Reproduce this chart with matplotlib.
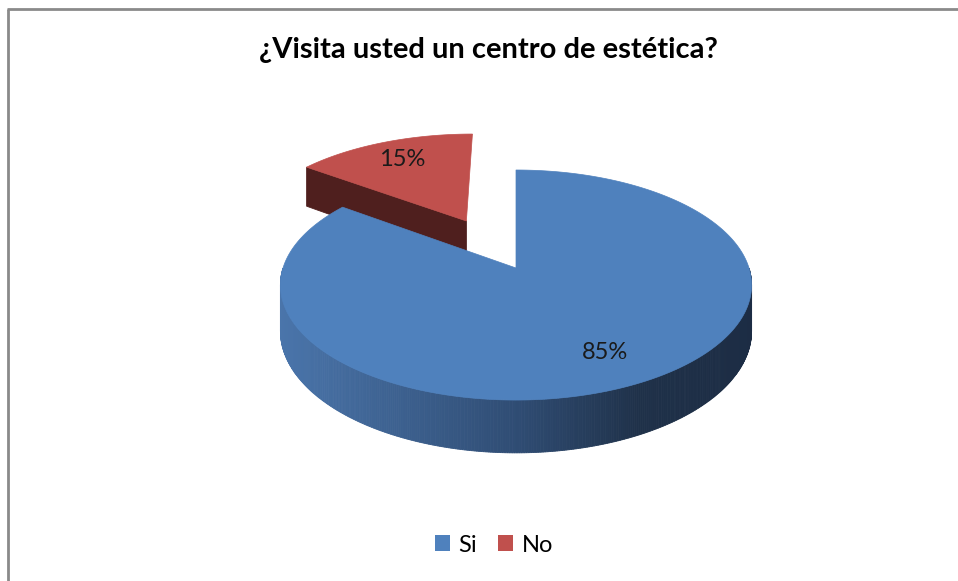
import numpy as np
import matplotlib
matplotlib.use('Agg')
import matplotlib.pyplot as plt
from matplotlib.patches import Polygon, Patch
from matplotlib.colors import to_rgb

# ---- data ----
title = "¿Visita usted un centro de estética?"
categories = ["Si", "No"]
values = [85, 15]
labels = ["85%", "15%"]
top_colors = ["#4f81bd", "#c0504d"]
face_colors = ["#2a4468", "#4f1f1e"]
explode = [0.0, 0.5]

W, H = 958, 581
fig = plt.figure(figsize=(9.58, 5.81), dpi=100)
ax = fig.add_axes([0, 0, 1, 1])
ax.set_xlim(0, W)
ax.set_ylim(H, 0)
ax.axis('off')

# projection of the 3D pie (perspective-ish)
cx, cy = 516, 268
A, B, T, K = 233, 112.5, 45, 0.148


def proj(u, v, depth=0.0):
    s = 1 + K * v
    return cx + A * u / s, cy + (-B * v + T * depth) / s


def side_color(x):
    stops_x = [280, 520, 640, 760]
    stops_c = [to_rgb("#4a75ab"), to_rgb("#2f4c73"), to_rgb("#1f3149"), to_rgb("#1c2c44")]
    x = np.clip(x, stops_x[0], stops_x[-1])
    for i in range(len(stops_x) - 1):
        if stops_x[i] <= x <= stops_x[i + 1]:
            f = (x - stops_x[i]) / (stops_x[i + 1] - stops_x[i])
            return tuple((1 - f) * np.array(stops_c[i]) + f * np.array(stops_c[i + 1]))
    return stops_c[-1]


total = float(sum(values))
cum = np.concatenate([[0], np.cumsum(values)]) / total
slices = []
for i in range(len(values)):
    t0 = np.radians(90 - cum[i + 1] * 360)
    t1 = np.radians(90 - cum[i] * 360)
    mid = 0.5 * (t0 + t1)
    ox, oy = explode[i] * np.cos(mid), explode[i] * np.sin(mid)
    slices.append(dict(i=i, t0=t0, t1=t1, mid=mid, ox=ox, oy=oy))

# far slices first
for sl in sorted(slices, key=lambda s: -s['oy']):
    i, t0, t1, ox, oy = sl['i'], sl['t0'], sl['t1'], sl['ox'], sl['oy']
    # curved outer side (front-facing strips)
    ts = np.linspace(t0, t1, max(int(np.degrees(t1 - t0) * 2), 2))
    for a0, a1 in zip(ts[:-1], ts[1:]):
        am = 0.5 * (a0 + a1)
        if np.sin(am) >= 0:
            continue
        p = [proj(ox + np.cos(a0), oy + np.sin(a0), 0), proj(ox + np.cos(a1), oy + np.sin(a1), 0),
             proj(ox + np.cos(a1), oy + np.sin(a1), 1), proj(ox + np.cos(a0), oy + np.sin(a0), 1)]
        xm = np.mean([q[0] for q in p])
        c = side_color(xm) if i == 0 else face_colors[i]
        ax.add_patch(Polygon(p, closed=True, facecolor=c, edgecolor=c, lw=0.6))
    # radial faces
    for edge, normal in ((t0, t0 - np.pi / 2), (t1, t1 + np.pi / 2)):
        if np.sin(normal) < -1e-6:
            ex, ey = ox + np.cos(edge), oy + np.sin(edge)
            p = [proj(ox, oy, 0), proj(ex, ey, 0), proj(ex, ey, 1), proj(ox, oy, 1)]
            ax.add_patch(Polygon(p, closed=True, facecolor=face_colors[i],
                                 edgecolor=face_colors[i], lw=0.6))
    # top face
    arc = [proj(ox + np.cos(t), oy + np.sin(t), 0) for t in np.linspace(t0, t1, 400)]
    pts = [proj(ox, oy, 0)] + arc
    ax.add_patch(Polygon(pts, closed=True, facecolor=top_colors[i],
                         edgecolor=top_colors[i], lw=0.5))

# labels
for sl in slices:
    r = 0.76
    lx, ly = proj(sl['ox'] + r * np.cos(sl['mid']), sl['oy'] + r * np.sin(sl['mid']), 0)
    ax.text(lx, ly, labels[sl['i']], ha='center', va='center', fontsize=17,
            family='Lato', color='#1a1a1a')

ax.text(488, 50, title, ha='center', va='center', fontsize=21, fontweight='bold',
        family='Lato', color='#000000')

# chart border (top and left visible)
ax.plot([7, W], [9, 9], color='#8a8a8a', lw=2.0, solid_capstyle='butt')
ax.plot([8, 8], [9, H], color='#8a8a8a', lw=2.0, solid_capstyle='butt')

handles = [Patch(facecolor=top_colors[k], edgecolor='none', label=categories[k])
           for k in range(len(categories))]
leg = ax.legend(handles=handles, loc='center', bbox_to_anchor=(494 / W, 1 - 545 / H),
                ncol=2, frameon=False, handlelength=0.64, handleheight=0.64,
                handletextpad=0.35, columnspacing=0.9, prop={'family': 'Lato', 'size': 17})

fig.savefig('out.png', dpi=100)
